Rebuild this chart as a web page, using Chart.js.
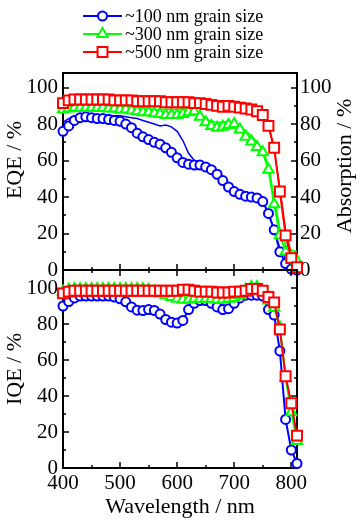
<!DOCTYPE html>
<html>
<head>
<meta charset="utf-8">
<script src="https://cdn.jsdelivr.net/npm/chart.js@4.4.0/dist/chart.umd.min.js"></script>
<style>
html, body { margin: 0; padding: 0; background: #fff; }
#wrap { position: relative; width: 360px; height: 530px; overflow: hidden; }
canvas { position: absolute; left: 0; }
#top { top: 0; }
#bot { top: 230px; }
</style>
</head>
<body>
<div id="wrap">
  <canvas id="top" width="360" height="300"></canvas>
  <canvas id="bot" width="360" height="300"></canvas>
</div>
<script>
// wavelength (nm), one point every 10 nm
let wavelength = [400, 410, 420, 430, 440, 450, 460, 470, 480, 490,
                  500, 510, 520, 530, 540, 550, 560, 570, 580, 590,
                  600, 610, 620, 630, 640, 650, 660, 670, 680, 690,
                  700, 710, 720, 730, 740, 750, 760, 770, 780, 790,
                  800, 810];

// EQE (%) - markers
let eqe100 = [76, 79, 82, 83.5, 84, 83.5, 83, 83, 82.5, 82,
              81.5, 80, 78, 75, 73, 71.5, 70, 69, 67, 64.5,
              61.5, 59, 58, 57.5, 57.5, 56.5, 55, 52.5, 49, 45.5,
              43, 41.5, 40.5, 40, 39.5, 37.5, 31, 22, 10, 3.5,
              0.5, 0];
let eqe300 = [88, 88.5, 89, 89, 89, 89, 89, 89, 88.5, 88.5,
              88, 88, 87.5, 87, 86.5, 86.5, 86, 85.5, 85, 85,
              85, 85.5, 86.5, 87, 84, 81, 79, 78, 78.5, 79.5,
              80, 77, 73, 70.5, 67.5, 64.5, 55, 36, 19, 10,
              7, 5];
let eqe500 = [91.5, 93, 93.5, 93.5, 93.5, 93.5, 93.5, 93.5, 93.5, 93,
              93, 93, 93, 92.5, 92.5, 92.5, 92.5, 92.5, 92, 92,
              92, 92, 92, 91.5, 91.5, 91, 90.5, 90, 89.5, 90,
              89.5, 89, 88.5, 88, 87, 85, 79, 67, 43, 19,
              6.5, 1.5];

// Absorption (%) - thin lines
let abs100 = [81, 83, 84.5, 85, 85, 85, 85, 85, 85, 84.5,
              84.5, 84, 83.5, 83, 82, 81, 80, 79, 79.5, 78.5,
              76, 71, 64, 60, 59.5, 58.5, 57, 54, 50, 46.5,
              44, 42.5, 41.5, 41, 40.5, 38, 31, 22, 12, 6,
              3, 2];
let abs300 = [89, 89.5, 90, 90, 90, 90, 90, 90, 89.5, 89.5,
              89.5, 89.5, 89, 89, 88.5, 88.5, 88, 88, 88, 88,
              88, 88.5, 88.5, 88, 86, 83, 81.5, 81, 81, 81.5,
              81, 79, 76.5, 73.5, 70, 66, 57, 40, 22, 14,
              11, 10];
let abs500 = [91, 92, 92.5, 92.5, 92.5, 92.5, 92.5, 92.5, 92.5, 92.5,
              92.5, 92.5, 92, 92, 92, 92, 92, 91.5, 91.5, 91.5,
              91.5, 91.5, 91, 91, 91, 90.5, 90, 89.5, 89, 89,
              89, 88.5, 88, 87.5, 86.5, 84.5, 79, 66, 45, 22,
              9, 3];

// IQE (%)
let iqe100 = [90, 92.5, 94.5, 95.5, 95.5, 95.5, 95.5, 95.5, 95.5, 95,
              94, 92.3, 89.5, 87.7, 87.5, 88, 87.5, 85.5, 82.5, 81,
              80.5, 82, 88, 91.5, 93, 93, 91.5, 89.5, 88, 88.5,
              91.5, 94.5, 96, 96, 96, 95.5, 88, 85, 65, 27,
              10, 2.5];
let iqe300 = [98, 99, 99.5, 99.5, 99.5, 99.5, 99.5, 99.5, 99.5, 99.5,
              99.5, 99.5, 99.5, 99.5, 99.5, 99, 98, 97, 96, 95,
              94, 93.5, 93.5, 94, 94, 94, 94, 93.5, 93.5, 94,
              94.5, 96, 99, 100.5, 100.5, 98, 93, 89, 78, 50,
              31, 15];
let iqe500 = [97, 98, 98.5, 98.5, 98.5, 98.5, 98.5, 98.5, 98.5, 98.5,
              98.5, 98.5, 98.5, 98.5, 98.5, 98.5, 98.5, 98.5, 98.5, 98.5,
              98.5, 99, 99, 98.5, 98, 98, 98, 97.5, 97.5, 97.5,
              98, 98, 98.5, 99.5, 99.5, 98.5, 95, 92, 77, 51,
              36, 18];

let labels = ['~100 nm grain size', '~300 nm grain size', '~500 nm grain size'];
let colors = ['#0000ff', '#00ff00', '#ff0000'];
let markers = ['circle', 'triangle', 'rect'];
let markerSize = [4.5, 6, 7];

let xTicks = [400, 500, 600, 700, 800];
let yTicks = [0, 20, 40, 60, 80, 100];

let serif = "'Liberation Serif', 'Times New Roman', serif";

function pts(ys) {
  return wavelength.map((x, i) => ({ x: x, y: ys[i] }));
}

function markerSet(k, ys, order, axis) {
  return {
    data: pts(ys),
    yAxisID: axis,
    borderColor: colors[k],
    borderWidth: 2,
    pointStyle: markers[k],
    pointRadius: markerSize[k],
    pointBorderWidth: 2,
    pointBorderColor: colors[k],
    pointBackgroundColor: '#fff',
    tension: 0,
    clip: false,
    order: order
  };
}

function thinSet(k, ys, order) {
  return {
    data: pts(ys),
    yAxisID: 'y2',
    borderColor: colors[k],
    borderWidth: 1.5,
    pointRadius: 0,
    tension: 0,
    clip: false,
    order: order
  };
}

// box with inward ticks, drawn under the data
function frame(rightTicks, topTicks) {
  return {
    id: 'frame',
    beforeDatasetsDraw(chart) {
      let ctx = chart.ctx, a = chart.chartArea;
      let x = chart.scales.x, y = chart.scales.y;
      ctx.save();
      ctx.strokeStyle = '#000';
      ctx.lineWidth = 2;
      ctx.strokeRect(a.left, a.top, a.right - a.left, a.bottom - a.top);
      ctx.lineWidth = 1.5;
      ctx.beginPath();
      xTicks.forEach((v, i) => {
        let px = Math.round(x.getPixelForValue(v));
        ctx.moveTo(px, a.bottom); ctx.lineTo(px, a.bottom - 6);
        if (topTicks) { ctx.moveTo(px, a.top); ctx.lineTo(px, a.top + 6); }
        if (i < xTicks.length - 1) {
          let pm = Math.round(x.getPixelForValue(v + 50));
          ctx.moveTo(pm, a.bottom); ctx.lineTo(pm, a.bottom - 3);
          if (topTicks) { ctx.moveTo(pm, a.top); ctx.lineTo(pm, a.top + 3); }
        }
      });
      yTicks.forEach((v, i) => {
        let py = Math.round(y.getPixelForValue(v));
        ctx.moveTo(a.left, py); ctx.lineTo(a.left + 6, py);
        if (rightTicks) { ctx.moveTo(a.right, py); ctx.lineTo(a.right - 6, py); }
        if (i < yTicks.length - 1) {
          let pm = Math.round(y.getPixelForValue(v + 10));
          ctx.moveTo(a.left, pm); ctx.lineTo(a.left + 3, pm);
          if (rightTicks) { ctx.moveTo(a.right, pm); ctx.lineTo(a.right - 3, pm); }
        }
      });
      ctx.stroke();
      ctx.restore();
    }
  };
}

function vText(ctx, txt, x, y) {
  ctx.save();
  ctx.translate(x, y);
  ctx.rotate(-Math.PI / 2);
  ctx.font = '22px ' + serif;
  ctx.textAlign = 'center';
  ctx.textBaseline = 'middle';
  ctx.fillStyle = '#000';
  ctx.fillText(txt, 0, 0);
  ctx.restore();
}

// legend rows and the two axis titles of the top panel
let extras = {
  id: 'extras',
  afterDraw(chart) {
    let ctx = chart.ctx;
    ctx.save();
    labels.forEach((txt, k) => {
      let yy = 16 + k * 18;
      ctx.strokeStyle = colors[k];
      ctx.lineWidth = 2;
      ctx.beginPath();
      ctx.moveTo(83, yy); ctx.lineTo(122, yy);
      ctx.stroke();
      ctx.fillStyle = '#fff';
      Chart.helpers.drawPoint(ctx, {
        pointStyle: markers[k], radius: markerSize[k], borderWidth: 2, rotation: 0
      }, 102.5, yy);
      ctx.fillStyle = '#000';
      ctx.font = '18px ' + serif;
      ctx.textAlign = 'left';
      ctx.textBaseline = 'middle';
      ctx.fillText(txt, 125, yy + 1);
    });
    ctx.restore();
    vText(ctx, 'EQE / %', 15, 160);
    vText(ctx, 'Absorption / %', 345, 166);
  }
};

function yScale(pos, max, title, pad) {
  return {
    type: 'linear',
    position: pos,
    min: 0,
    max: max,
    afterBuildTicks: s => { s.ticks = yTicks.map(v => ({ value: v })); },
    afterFit: s => { s.width = 63; },
    grid: { display: false, drawTicks: false },
    border: { display: false },
    ticks: { color: '#000', padding: pad, autoSkip: false, font: { family: serif, size: 21 } },
    title: {
      display: !!title,
      text: title,
      color: '#000',
      padding: { top: 2, bottom: 0 },
      font: { family: serif, size: 22 }
    }
  };
}

let common = {
  responsive: false,
  animation: false,
  devicePixelRatio: 1,
  plugins: { legend: { display: false }, tooltip: { enabled: false } }
};

// top panel: plot area 63..297 x 73..270
new Chart(document.getElementById('top'), {
  type: 'line',
  data: {
    datasets: [
      markerSet(2, eqe500, 1, 'y'),
      markerSet(1, eqe300, 2, 'y'),
      markerSet(0, eqe100, 3, 'y'),
      thinSet(2, abs500, 4),
      thinSet(1, abs300, 5),
      thinSet(0, abs100, 6)
    ]
  },
  options: Object.assign({}, common, {
    layout: { autoPadding: false, padding: { top: 73, left: 0, right: 0, bottom: 0 } },
    scales: {
      x: {
        type: 'linear',
        min: 400,
        max: 810,
        afterBuildTicks: s => { s.ticks = xTicks.map(v => ({ value: v })); },
        afterFit: s => { s.height = 30; },
        grid: { display: false, drawTicks: false },
        border: { display: false },
        ticks: { display: false }
      },
      y: yScale('left', 108, '', 5),
      y2: yScale('right', 108, '', 3)
    }
  }),
  plugins: [frame(true, false), extras]
});

// bottom panel: plot area 63..297 x 270..468 (canvas starts at 230)
new Chart(document.getElementById('bot'), {
  type: 'line',
  data: {
    datasets: [
      markerSet(2, iqe500, 1, 'y'),
      markerSet(1, iqe300, 2, 'y'),
      markerSet(0, iqe100, 3, 'y')
    ]
  },
  options: Object.assign({}, common, {
    layout: { autoPadding: false, padding: { top: 40, left: 0, right: 63, bottom: 0 } },
    scales: {
      x: {
        type: 'linear',
        min: 400,
        max: 810,
        afterBuildTicks: s => { s.ticks = xTicks.map(v => ({ value: v })); },
        afterFit: s => { s.height = 62; },
        grid: { display: false, drawTicks: false },
        border: { display: false },
        ticks: { color: '#000', padding: 3, autoSkip: false, maxRotation: 0, font: { family: serif, size: 21 } },
        title: {
          display: true,
          text: 'Wavelength / nm',
          color: '#000',
          padding: { top: 0, bottom: 10 },
          font: { family: serif, size: 22 }
        }
      },
      y: yScale('left', 110, 'IQE / %', 5)
    }
  }),
  plugins: [frame(true, true)]
});
</script>
</body>
</html>
